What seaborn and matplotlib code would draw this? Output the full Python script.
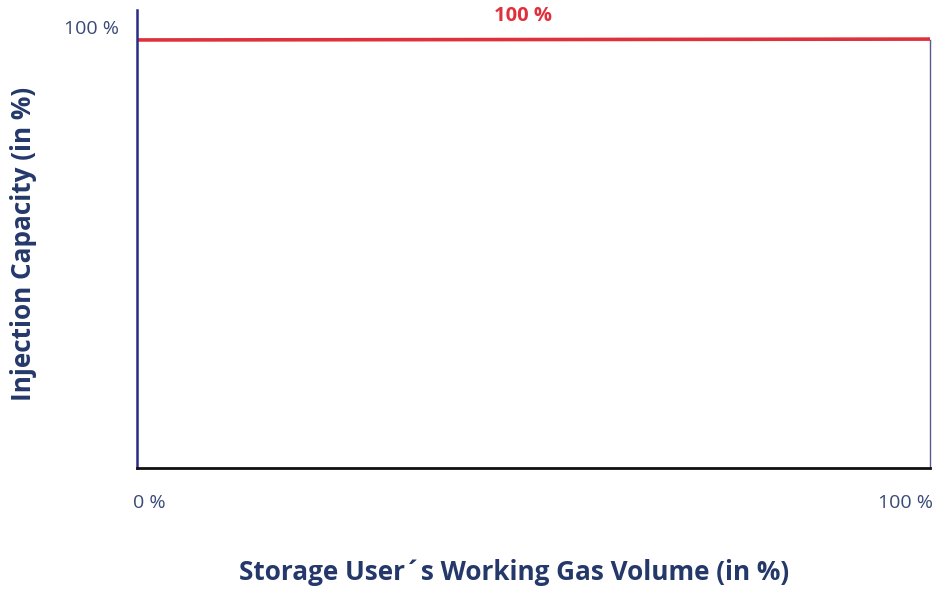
import matplotlib
matplotlib.use("Agg")
import matplotlib.pyplot as plt
import matplotlib.transforms as mtransforms
import seaborn as sns
import pandas as pd

# data
volume_pct = [0, 100]
capacity_pct = [100, 100.2]
x_tick_values = [0, 100]
x_tick_labels = ["0 %", "100 %"]
y_tick_values = [100]
y_tick_labels = ["100 %"]
line_label = "100 %"
x_title = "Storage User´s Working Gas Volume (in %)"
y_title = "Injection Capacity (in %)"

sns.set_theme(style="white")
plt.rcParams['font.family'] = ['Open Sans', 'DejaVu Sans']

NAVY = "#24386a"
RED = "#e0303c"

fig = plt.figure(figsize=(9.39, 5.91), dpi=100)
ax = fig.add_axes([0.1459, 0.2081, 0.8445, 0.775])

df = pd.DataFrame({"volume": volume_pct, "capacity": capacity_pct})
sns.lineplot(data=df, x="volume", y="capacity", ax=ax, color=RED, linewidth=2.6)

ax.set_xlim(0, 100)
ax.set_ylim(0, 107)

ax.spines['top'].set_visible(False)
ax.spines['left'].set_color("#2c2a85")
ax.spines['left'].set_linewidth(1.8)
ax.spines['bottom'].set_color("#111111")
ax.spines['bottom'].set_linewidth(2.0)
ax.spines['right'].set_color("#5a5a90")
ax.spines['right'].set_linewidth(1.0)
ax.spines['right'].set_bounds(0, 100)

ax.set_xticks(x_tick_values, x_tick_labels)
ax.set_yticks(y_tick_values, y_tick_labels)
ax.tick_params(axis='both', length=0, labelsize=14, colors=NAVY)
ax.tick_params(axis='x', pad=19)
ax.tick_params(axis='y', pad=13)
xl = ax.get_xticklabels()
xl[0].set_ha('left')
xl[1].set_ha('right')
xl[0].set_transform(xl[0].get_transform() + mtransforms.ScaledTranslation(-4/100, 0, fig.dpi_scale_trans))
xl[1].set_transform(xl[1].get_transform() + mtransforms.ScaledTranslation(3/100, 0, fig.dpi_scale_trans))
for t in ax.get_yticklabels():
    t.set_transform(t.get_transform() + mtransforms.ScaledTranslation(0, 13/100, fig.dpi_scale_trans))
for t in ax.get_xticklabels() + ax.get_yticklabels():
    t.set_color("#3a4a78")

ax.text(48.7, 103.3, line_label, color=RED, fontsize=14.5, fontweight='bold',
        ha='center', va='bottom')

ax.set_xlabel(x_title, fontsize=18.8, fontweight='bold', color=NAVY)
ax.set_ylabel(y_title, fontsize=18.8, fontweight='bold', color=NAVY)
ax.xaxis.set_label_coords(0.475, -0.198)
ax.yaxis.set_label_coords(-0.126, 0.489)

fig.savefig("out.png", dpi=100)
